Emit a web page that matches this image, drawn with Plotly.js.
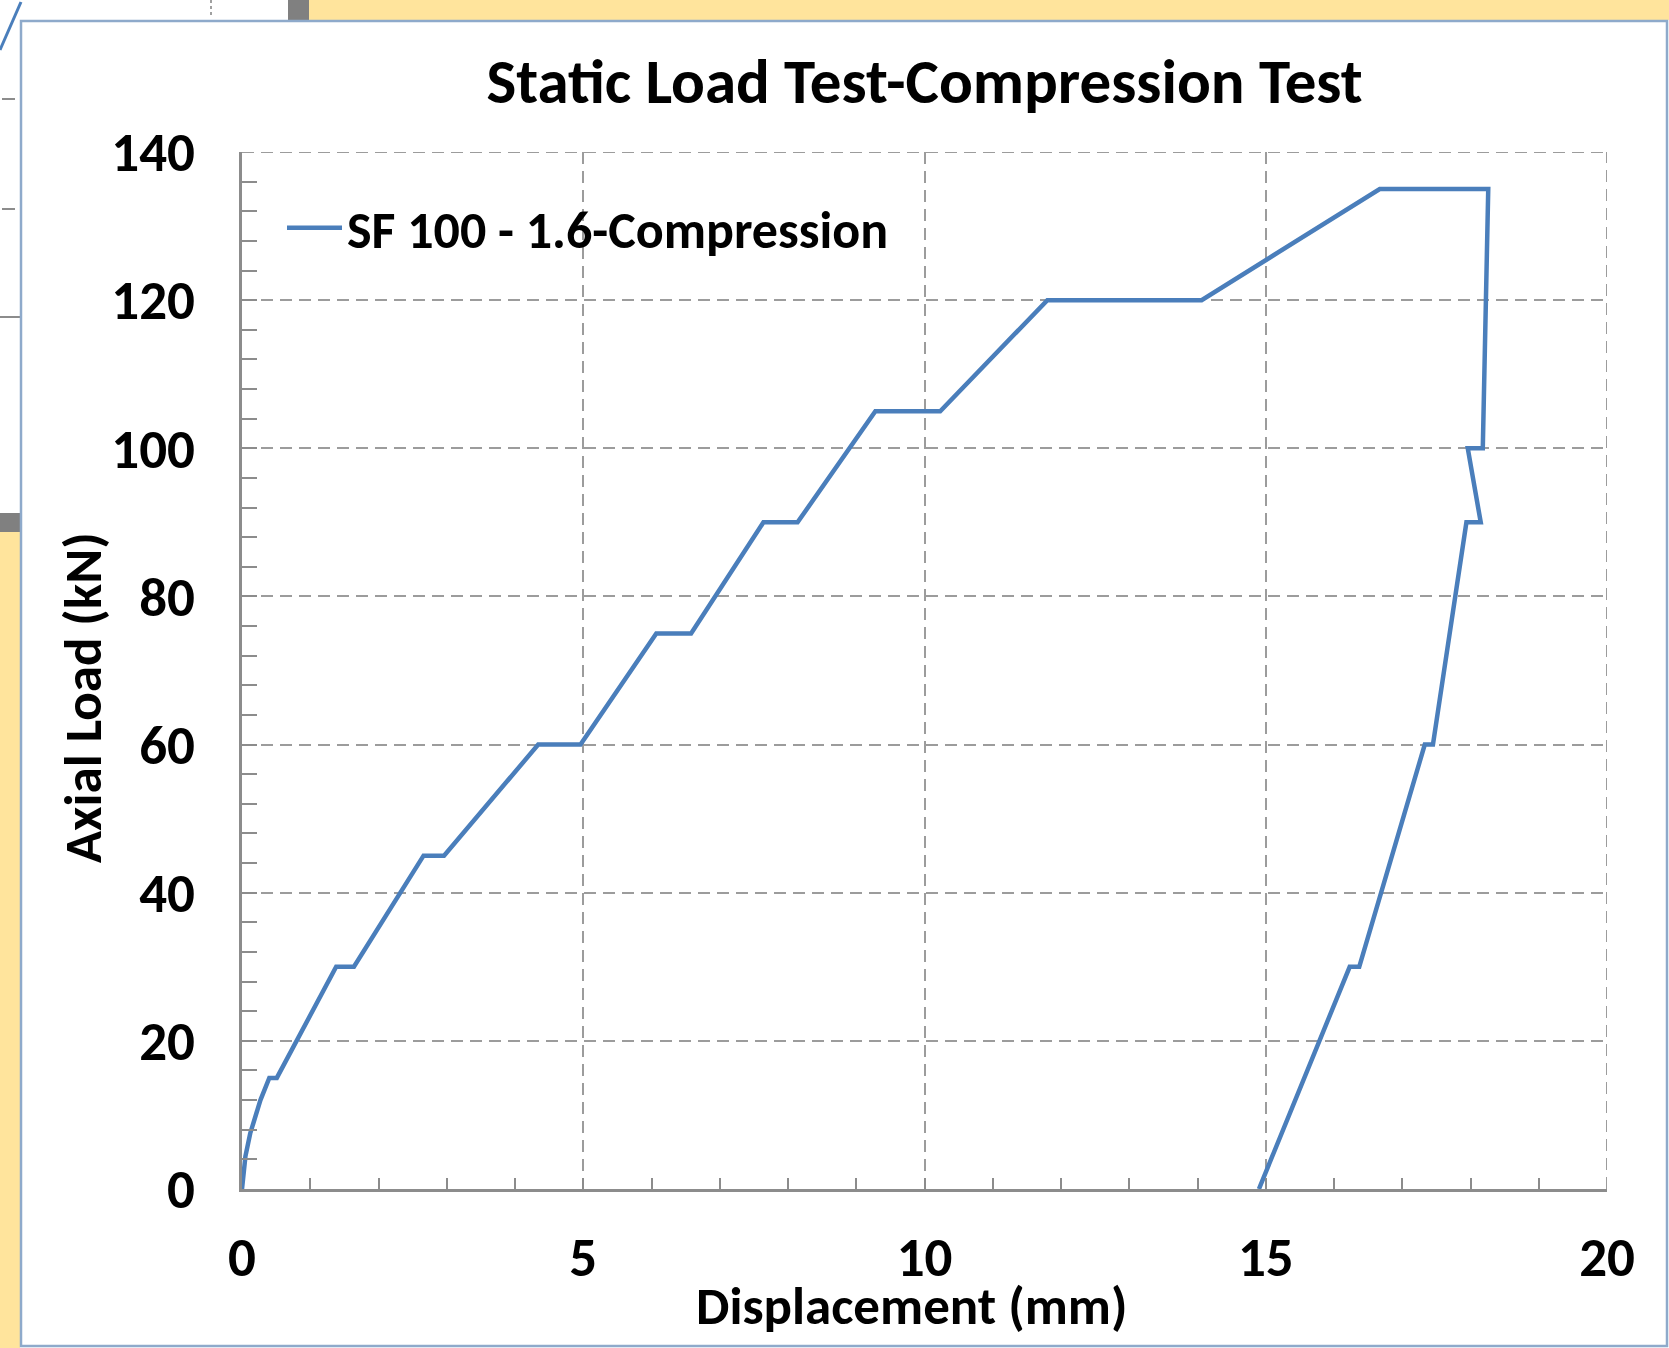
<!DOCTYPE html>
<html>
<head>
<meta charset="utf-8">
<script src="https://cdn.plot.ly/plotly-3.0.1.min.js"></script>
<style>
  html, body { margin: 0; padding: 0; background: #ffffff; }
  #chart { width: 1669px; height: 1348px; }
</style>
</head>
<body>
<div id="chart"></div>
<script>
// ---- Data ----
const seriesName = "SF 100 - 1.6-Compression";
const displacement = [0, 0.02, 0.05, 0.12, 0.27, 0.40, 0.51, 1.38, 1.64, 2.66, 2.96, 4.34, 4.96, 6.07, 6.58,
  7.64, 8.14, 9.28, 10.23, 11.80, 14.06, 16.67, 18.26, 18.18, 17.96, 18.15, 17.94, 17.45, 17.33,
  16.37, 16.23, 14.90];
const axialLoad = [0, 2.2, 4.4, 7.5, 12, 15, 15, 30, 30, 45, 45, 60, 60, 75, 75,
  90, 90, 105, 105, 120, 120, 135, 135, 100, 100, 90, 90, 60, 60,
  30, 30, 0];
const xTickVals = [0, 5, 10, 15, 20];
const yTickVals = [0, 20, 40, 60, 80, 100, 120, 140];
const xRange = [0, 20];
const yRange = [0, 140];
const chartTitle = 'Static Load Test-Compression Test';
const xTitle = 'Displacement (mm)';
const yTitle = 'Axial Load (kN)';

const FONT = "Carlito, Calibri, 'Liberation Sans Narrow', 'DejaVu Sans Condensed', sans-serif";

// page geometry helpers (pixels -> paper coordinates) for the surrounding decoration
const W = 1669, H = 1348, ML = 242, MR = 62, MT = 152, MB = 159;
const PW = W - ML - MR, PH = H - MT - MB;
const px = v => (v - ML) / PW;
const py = v => (H - MB - v) / PH;
function rect(x0, y0, x1, y1, fill, line) {
  return { type: 'rect', xref: 'paper', yref: 'paper', layer: 'below',
    x0: px(x0), x1: px(x1), y0: py(y0), y1: py(y1),
    fillcolor: fill || 'rgba(0,0,0,0)', line: line || { width: 0 } };
}
function seg(x0, y0, x1, y1, color, width, dash) {
  return { type: 'line', xref: 'paper', yref: 'paper', layer: 'below',
    x0: px(x0), x1: px(x1), y0: py(y0), y1: py(y1),
    line: { color: color, width: width, dash: dash || 'solid' } };
}

const gridColor = '#9c9c9c';
const axisColor = '#8c8c8c';
const GRIDDASH = '12px,7px';

const shapes = [
  rect(309, 0, W, 20, '#ffe49c'),
  rect(288, 0, 309, 20, '#808080'),
  rect(0, 532, 20, H, '#ffe49c'),
  rect(0, 513, 20, 532, '#808080'),
  seg(0, 317, 20, 317, '#8c8c8c', 2),
  seg(2, 99, 15, 99, '#8c8c8c', 2),
  seg(2, 209, 15, 209, '#8c8c8c', 2),
  seg(211, 0, 211, 18, '#a0a0a0', 2, 'dot'),
  seg(0, 50, 21, 2, '#4a7ebb', 3),
  rect(21, 21, 1667, 1346, 'rgba(0,0,0,0)', { color: '#8eaacb', width: 2.5 }),
  // dashed grid lines on the top and right edges of the plot area
  { type: 'line', xref: 'x', yref: 'y', layer: 'below',
    x0: xRange[0], x1: xRange[1], y0: yRange[1], y1: yRange[1],
    line: { color: gridColor, width: 2, dash: GRIDDASH } },
  { type: 'line', xref: 'x', yref: 'y', layer: 'below',
    x0: xRange[1], x1: xRange[1], y0: yRange[0], y1: yRange[1],
    line: { color: gridColor, width: 2, dash: GRIDDASH } }
];

const trace = {
  type: 'scatter',
  mode: 'lines',
  name: seriesName,
  x: displacement,
  y: axialLoad,
  line: { color: '#4a7ebb', width: 4.5 },
  showlegend: true
};

const titleFont = { family: FONT, size: 53, color: '#000000', weight: 700 };

const layout = {
  width: W, height: H,
  margin: { l: ML, r: MR, t: MT, b: MB, pad: 0 },
  paper_bgcolor: '#ffffff',
  plot_bgcolor: '#ffffff',
  font: { family: FONT, color: '#000000', size: 53, weight: 700 },
  title: {
    text: chartTitle,
    font: { family: FONT, size: 63, color: '#000000', weight: 700 },
    x: 0.5, xref: 'paper', xanchor: 'center',
    y: 1 - 81 / H, yref: 'container', yanchor: 'middle'
  },
  showlegend: true,
  legend: {
    x: px(282), y: py(228), xanchor: 'left', yanchor: 'middle',
    itemwidth: 55,
    bgcolor: 'rgba(0,0,0,0)', borderwidth: 0,
    font: { family: FONT, size: 52, color: '#000000', weight: 700 }
  },
  xaxis: {
    range: xRange,
    tickmode: 'array', tickvals: xTickVals, ticktext: xTickVals.map(String),
    ticks: 'inside', ticklen: 11, tickwidth: 2, tickcolor: axisColor,
    ticklabelstandoff: 18,
    tickfont: { family: FONT, size: 55, color: '#000000', weight: 700 },
    showline: true, linecolor: axisColor, linewidth: 3, mirror: false,
    showgrid: true, gridcolor: gridColor, gridwidth: 2, griddash: GRIDDASH,
    zeroline: false,
    minor: { dtick: 1, ticks: 'inside', ticklen: 11, tickwidth: 2, tickcolor: axisColor, showgrid: false },
    fixedrange: true
  },
  yaxis: {
    range: yRange,
    tickmode: 'array', tickvals: yTickVals, ticktext: yTickVals.map(String),
    ticks: 'inside', ticklen: 15, tickwidth: 2, tickcolor: axisColor,
    ticklabelstandoff: 33,
    tickfont: { family: FONT, size: 55, color: '#000000', weight: 700 },
    showline: true, linecolor: axisColor, linewidth: 3, mirror: false,
    showgrid: true, gridcolor: gridColor, gridwidth: 2, griddash: GRIDDASH,
    zeroline: false,
    minor: { dtick: 4, ticks: 'inside', ticklen: 15, tickwidth: 2, tickcolor: axisColor, showgrid: false },
    fixedrange: true
  },
  annotations: [
    { text: xTitle, xref: 'paper', yref: 'paper', x: px(911), y: py(1306),
      xanchor: 'center', yanchor: 'middle', showarrow: false, font: titleFont },
    { text: yTitle, xref: 'paper', yref: 'paper', x: px(83), y: py(698),
      xanchor: 'center', yanchor: 'middle', textangle: -90, showarrow: false, font: titleFont }
  ],
  shapes: shapes
};

Plotly.newPlot('chart', [trace], layout, { displayModeBar: false, staticPlot: true });
</script>
</body>
</html>
